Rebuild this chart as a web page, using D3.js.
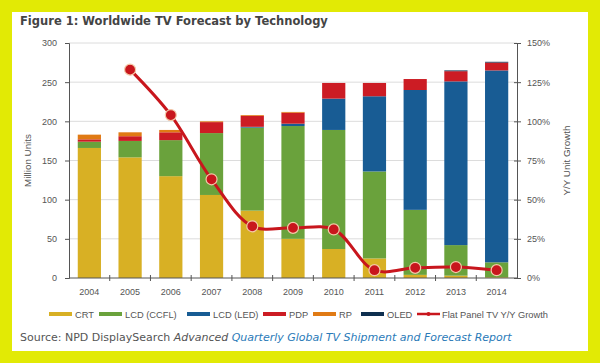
<!DOCTYPE html>
<html>
<head>
<meta charset="utf-8">
<script src="https://cdn.jsdelivr.net/npm/d3@7"></script>
<style>
  body { margin: 0; background: #e2ea05; }
  svg { display: block; }
  .axis path, .axis line { stroke: #555; }
</style>
</head>
<body>
<div id="chart"></div>
<script>
var years = ["2004","2005","2006","2007","2008","2009","2010","2011","2012","2013","2014"];
var crt   = [166, 154, 130, 106, 86, 50, 37, 25, 4, 3, 1];
var ccfl  = [8, 21, 46, 79, 106, 144, 152, 111, 83, 39, 19];
var led   = [0, 0, 0, 0, 1, 3, 40, 96, 153, 209, 245];
var pdp   = [3, 6, 10, 14, 14, 14, 20, 17, 14, 13, 10];
var rp    = [6, 5, 3, 1, 1, 1, 0, 0, 0, 0, 0];
var oled  = [0, 0, 0, 0, 0, 0, 0, 0, 0, 1, 1];
var growth = [null, 133, 104, 63, 33, 32, 31, 5, 6.5, 7, 5];
var unitTicks = [0, 50, 100, 150, 200, 250, 300];
var growthTicks = [0, 0.25, 0.5, 0.75, 1, 1.25, 1.5];

var seriesNames = ["CRT", "LCD (CCFL)", "LCD (LED)", "PDP", "RP", "OLED"];
var seriesData = [crt, ccfl, led, pdp, rp, oled];
var colors = ["#d8b024", "#6aa23c", "#185c94", "#cc1c24", "#e07a14", "#0e2f4f"];
var lineColor = "#c8161d";
var labelFont = "'Liberation Sans', Arial, sans-serif";

var drawChart = function() {
  var w = 600, h = 363;
  var svg = d3.select("#chart").append("svg").attr("width", w).attr("height", h);

  // white panel on yellow border
  svg.append("rect").attr("x", 12).attr("y", 12).attr("width", 576).attr("height", 339).attr("fill", "#fff");

  svg.append("text")
    .attr("x", 20).attr("y", 25)
    .attr("font-family", "'DejaVu Sans', Verdana, sans-serif")
    .attr("font-size", 11.5).attr("font-weight", "bold").attr("fill", "#444")
    .text("Figure 1: Worldwide TV Forecast by Technology");

  var pLeft = 69, pRight = 517, pTop = 43, pBottom = 278;

  var table = years.map(function(yr, i) {
    var row = { year: yr };
    seriesNames.forEach(function(k, j) { row[k] = seriesData[j][i]; });
    return row;
  });
  var stacked = d3.stack().keys(seriesNames)(table);

  var x = d3.scaleBand().domain(years).range([pLeft, pRight]).paddingInner(0.43).paddingOuter(0.215);
  var xb = d3.scaleBand().domain(years).range([pLeft, pRight]);
  var y = d3.scaleLinear().domain([0, 300]).range([pBottom, pTop]);
  var y2 = d3.scaleLinear().domain([0, 1.5]).range([pBottom, pTop]);

  // grid
  svg.append("g").selectAll("line").data(unitTicks.slice(1)).enter()
    .append("line")
    .attr("x1", pLeft).attr("x2", pRight)
    .attr("y1", function(d) { return y(d); }).attr("y2", function(d) { return y(d); })
    .attr("stroke", "#dcdcdc").attr("stroke-width", 1);

  // bars
  svg.append("g").selectAll("g").data(stacked).enter()
    .append("g").attr("fill", function(d, i) { return colors[i]; })
    .selectAll("rect").data(function(d) { return d; }).enter()
    .append("rect")
    .attr("x", function(d) { return x(d.data.year); })
    .attr("width", x.bandwidth())
    .attr("y", function(d) { return y(d[1]); })
    .attr("height", function(d) { return y(d[0]) - y(d[1]); });

  // axes
  var yAxis = d3.axisLeft(y).tickValues(unitTicks).tickSize(4).tickPadding(8);
  svg.append("g").attr("class", "axis").attr("transform", "translate(" + pLeft + ",0)").call(yAxis);

  var y2Axis = d3.axisRight(y2).tickValues(growthTicks).tickFormat(d3.format(".0%")).tickSize(4).tickPadding(6);
  var g2 = svg.append("g").attr("class", "axis").attr("transform", "translate(" + pRight + ",0)").call(y2Axis);
  g2.selectAll(".tick line").attr("x1", -3);

  svg.selectAll(".axis").attr("font-family", labelFont).attr("font-size", 9);
  svg.selectAll(".axis .tick text").attr("fill", "#555");

  var xg = svg.append("g").attr("class", "axis").attr("transform", "translate(0," + pBottom + ")");
  xg.append("line").attr("x1", pLeft).attr("x2", pRight).attr("stroke", "#555");
  xg.selectAll(".sep").data(years.slice(1)).enter().append("line")
    .attr("x1", function(d) { return xb(d); }).attr("x2", function(d) { return xb(d); })
    .attr("y1", -3).attr("y2", 3).attr("stroke", "#555");
  xg.selectAll("text").data(years).enter().append("text")
    .attr("x", function(d) { return xb(d) + xb.bandwidth() / 2; })
    .attr("y", 17).attr("text-anchor", "middle")
    .attr("font-family", labelFont).attr("font-size", 9).attr("fill", "#555")
    .text(function(d) { return d; });

  svg.selectAll(".domain").attr("stroke", "#555");

  // axis titles
  svg.append("text")
    .attr("transform", "translate(31," + ((pTop + pBottom) / 2) + ") rotate(-90)")
    .attr("text-anchor", "middle")
    .attr("font-family", labelFont).attr("font-size", 9.8).attr("fill", "#555")
    .text("Million Units");
  svg.append("text")
    .attr("transform", "translate(570," + ((pTop + pBottom) / 2) + ") rotate(-90)")
    .attr("text-anchor", "middle")
    .attr("font-family", labelFont).attr("font-size", 9.8).attr("fill", "#555")
    .text("Y/Y Unit Growth");

  // growth line
  var pts = years.map(function(yr, i) { return { year: yr, v: growth[i] }; })
    .filter(function(d) { return d.v != null; });
  var line = d3.line()
    .x(function(d) { return xb(d.year) + xb.bandwidth() / 2; })
    .y(function(d) { return y2(d.v / 100); })
    .curve(d3.curveCatmullRom.alpha(0.5));
  svg.append("path").datum(pts)
    .attr("d", line).attr("fill", "none").attr("stroke", lineColor).attr("stroke-width", 3);
  svg.append("g").selectAll("circle").data(pts).enter()
    .append("circle")
    .attr("cx", function(d) { return xb(d.year) + xb.bandwidth() / 2; })
    .attr("cy", function(d) { return y2(d.v / 100); })
    .attr("r", 5.5)
    .attr("fill", lineColor).attr("stroke", "#f3c9a8").attr("stroke-width", 1.2);

  // legend
  var legendX = [49, 99, 187, 263, 313, 361, 417];
  var lg = svg.append("g").attr("transform", "translate(0,314)");
  seriesNames.forEach(function(name, i) {
    lg.append("rect").attr("x", legendX[i]).attr("y", -2).attr("width", 23).attr("height", 4).attr("fill", colors[i]);
    lg.append("text").attr("x", legendX[i] + 26).attr("y", 3.5)
      .attr("font-family", labelFont).attr("font-size", 9.3).attr("fill", "#555")
      .text(name);
  });
  lg.append("line").attr("x1", legendX[6]).attr("x2", legendX[6] + 23).attr("y1", 0).attr("y2", 0)
    .attr("stroke", lineColor).attr("stroke-width", 2.5);
  lg.append("circle").attr("cx", legendX[6] + 11.5).attr("cy", 0).attr("r", 2).attr("fill", lineColor);
  lg.append("text").attr("x", legendX[6] + 25).attr("y", 3.5)
    .attr("font-family", labelFont).attr("font-size", 9.3).attr("fill", "#555")
    .text("Flat Panel TV Y/Y Growth");

  // source
  var src = svg.append("text").attr("x", 20).attr("y", 341)
    .attr("font-family", "'DejaVu Sans', Verdana, sans-serif").attr("font-size", 11).attr("fill", "#555");
  src.append("tspan").text("Source: NPD DisplaySearch ");
  src.append("tspan").attr("font-style", "italic").text("Advanced ");
  src.append("tspan").attr("font-style", "italic").attr("fill", "#2a7ab8")
    .text("Quarterly Global TV Shipment and Forecast Report");
};

drawChart();
</script>
</body>
</html>
